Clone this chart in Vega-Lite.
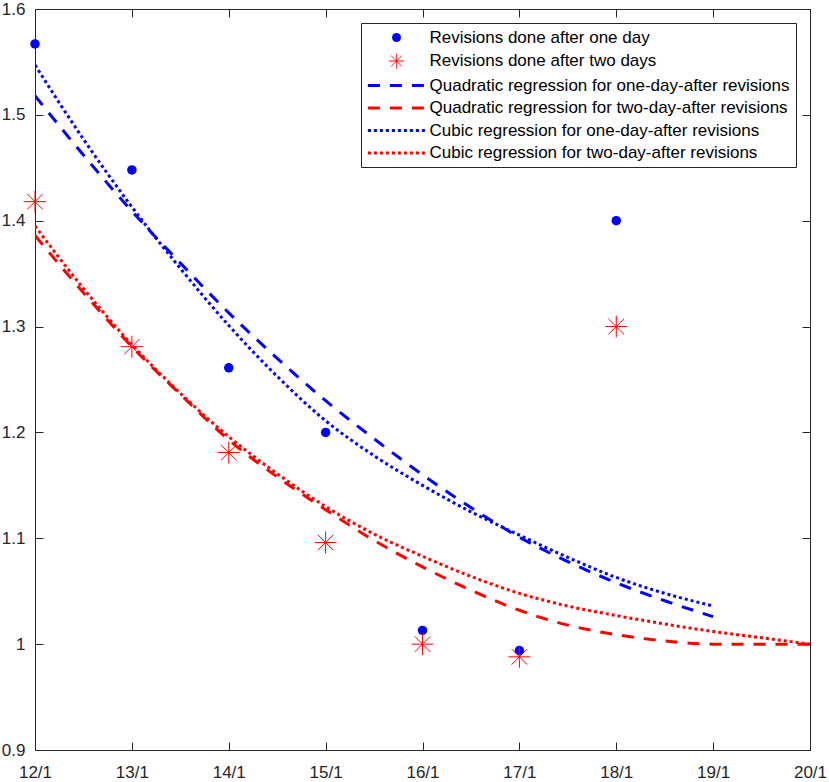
{
  "$schema": "https://vega.github.io/schema/vega-lite/v6.json",
  "width": 775,
  "height": 741,
  "autosize": {"type": "none"},
  "padding": {"left": 35, "top": 9, "right": 19, "bottom": 32},
  "background": "white",
  "config": {
    "font": "Liberation Sans",
    "view": {"stroke": "#262626", "strokeWidth": 1},
    "axis": {
      "labelFont": "Liberation Sans",
      "labelFontSize": 17,
      "labelColor": "#262626",
      "tickColor": "#262626",
      "tickSize": -8,
      "tickWidth": 1,
      "domain": false,
      "grid": false,
      "title": null,
      "labelOverlap": false,
      "labelFlush": false
    },
    "legend": {
      "orient": "top-right",
      "offset": 14,
      "padding": 6,
      "strokeColor": "#262626",
      "fillColor": "white",
      "labelFont": "Liberation Sans",
      "labelFontSize": 17,
      "labelColor": "black",
      "labelLimit": 600,
      "symbolSize": 80,
      "symbolOffset": 21,
      "labelOffset": 24.5,
      "rowPadding": 4.5,
      "symbolStrokeWidth": 3,
      "symbolOpacity": 1
    }
  },
  "datasets": {
    "curves": [
      {"series": "Quadratic regression for one-day-after revisions", "day": 12, "v": 1.518},
      {"series": "Quadratic regression for one-day-after revisions", "day": 12.5, "v": 1.462},
      {"series": "Quadratic regression for one-day-after revisions", "day": 13, "v": 1.409},
      {"series": "Quadratic regression for one-day-after revisions", "day": 13.5, "v": 1.36},
      {"series": "Quadratic regression for one-day-after revisions", "day": 14, "v": 1.313},
      {"series": "Quadratic regression for one-day-after revisions", "day": 14.5, "v": 1.27},
      {"series": "Quadratic regression for one-day-after revisions", "day": 15, "v": 1.23},
      {"series": "Quadratic regression for one-day-after revisions", "day": 15.5, "v": 1.194},
      {"series": "Quadratic regression for one-day-after revisions", "day": 16, "v": 1.16},
      {"series": "Quadratic regression for one-day-after revisions", "day": 16.5, "v": 1.129},
      {"series": "Quadratic regression for one-day-after revisions", "day": 17, "v": 1.101},
      {"series": "Quadratic regression for one-day-after revisions", "day": 17.5, "v": 1.078},
      {"series": "Quadratic regression for one-day-after revisions", "day": 18, "v": 1.058},
      {"series": "Quadratic regression for one-day-after revisions", "day": 18.5, "v": 1.041},
      {"series": "Quadratic regression for one-day-after revisions", "day": 19, "v": 1.026},
      {"series": "Quadratic regression for two-day-after revisions", "day": 12, "v": 1.386},
      {"series": "Quadratic regression for two-day-after revisions", "day": 12.5, "v": 1.332},
      {"series": "Quadratic regression for two-day-after revisions", "day": 13, "v": 1.281},
      {"series": "Quadratic regression for two-day-after revisions", "day": 13.5, "v": 1.236},
      {"series": "Quadratic regression for two-day-after revisions", "day": 14, "v": 1.193},
      {"series": "Quadratic regression for two-day-after revisions", "day": 14.5, "v": 1.158},
      {"series": "Quadratic regression for two-day-after revisions", "day": 15, "v": 1.127},
      {"series": "Quadratic regression for two-day-after revisions", "day": 15.5, "v": 1.098},
      {"series": "Quadratic regression for two-day-after revisions", "day": 16, "v": 1.073},
      {"series": "Quadratic regression for two-day-after revisions", "day": 16.5, "v": 1.051},
      {"series": "Quadratic regression for two-day-after revisions", "day": 17, "v": 1.032},
      {"series": "Quadratic regression for two-day-after revisions", "day": 17.5, "v": 1.018},
      {"series": "Quadratic regression for two-day-after revisions", "day": 18, "v": 1.009},
      {"series": "Quadratic regression for two-day-after revisions", "day": 18.5, "v": 1.003},
      {"series": "Quadratic regression for two-day-after revisions", "day": 19, "v": 1.0},
      {"series": "Quadratic regression for two-day-after revisions", "day": 19.5, "v": 1.0},
      {"series": "Quadratic regression for two-day-after revisions", "day": 20, "v": 1.0},
      {"series": "Cubic regression for one-day-after revisions", "day": 12, "v": 1.547},
      {"series": "Cubic regression for one-day-after revisions", "day": 12.5, "v": 1.477},
      {"series": "Cubic regression for one-day-after revisions", "day": 13, "v": 1.413},
      {"series": "Cubic regression for one-day-after revisions", "day": 13.5, "v": 1.355},
      {"series": "Cubic regression for one-day-after revisions", "day": 14, "v": 1.301},
      {"series": "Cubic regression for one-day-after revisions", "day": 14.5, "v": 1.253},
      {"series": "Cubic regression for one-day-after revisions", "day": 15, "v": 1.211},
      {"series": "Cubic regression for one-day-after revisions", "day": 15.5, "v": 1.178},
      {"series": "Cubic regression for one-day-after revisions", "day": 16, "v": 1.15},
      {"series": "Cubic regression for one-day-after revisions", "day": 16.5, "v": 1.125},
      {"series": "Cubic regression for one-day-after revisions", "day": 17, "v": 1.103},
      {"series": "Cubic regression for one-day-after revisions", "day": 17.5, "v": 1.082},
      {"series": "Cubic regression for one-day-after revisions", "day": 18, "v": 1.063},
      {"series": "Cubic regression for one-day-after revisions", "day": 18.5, "v": 1.048},
      {"series": "Cubic regression for one-day-after revisions", "day": 19, "v": 1.036},
      {"series": "Cubic regression for two-day-after revisions", "day": 12, "v": 1.395},
      {"series": "Cubic regression for two-day-after revisions", "day": 12.5, "v": 1.336},
      {"series": "Cubic regression for two-day-after revisions", "day": 13, "v": 1.283},
      {"series": "Cubic regression for two-day-after revisions", "day": 13.5, "v": 1.237},
      {"series": "Cubic regression for two-day-after revisions", "day": 14, "v": 1.196},
      {"series": "Cubic regression for two-day-after revisions", "day": 14.5, "v": 1.161},
      {"series": "Cubic regression for two-day-after revisions", "day": 15, "v": 1.13},
      {"series": "Cubic regression for two-day-after revisions", "day": 15.5, "v": 1.104},
      {"series": "Cubic regression for two-day-after revisions", "day": 16, "v": 1.083},
      {"series": "Cubic regression for two-day-after revisions", "day": 16.5, "v": 1.064},
      {"series": "Cubic regression for two-day-after revisions", "day": 17, "v": 1.048},
      {"series": "Cubic regression for two-day-after revisions", "day": 17.5, "v": 1.036},
      {"series": "Cubic regression for two-day-after revisions", "day": 18, "v": 1.027},
      {"series": "Cubic regression for two-day-after revisions", "day": 18.5, "v": 1.019},
      {"series": "Cubic regression for two-day-after revisions", "day": 19, "v": 1.012},
      {"series": "Cubic regression for two-day-after revisions", "day": 19.5, "v": 1.006},
      {"series": "Cubic regression for two-day-after revisions", "day": 20, "v": 1.0}
    ],
    "oneday": [
      {"series": "Revisions done after one day", "day": 12, "v": 1.567},
      {"series": "Revisions done after one day", "day": 13, "v": 1.448},
      {"series": "Revisions done after one day", "day": 14, "v": 1.261},
      {"series": "Revisions done after one day", "day": 15, "v": 1.2},
      {"series": "Revisions done after one day", "day": 16, "v": 1.013},
      {"series": "Revisions done after one day", "day": 17, "v": 0.994},
      {"series": "Revisions done after one day", "day": 18, "v": 1.4}
    ],
    "twoday": [
      {"series": "Revisions done after two days", "day": 12, "v": 1.418},
      {"series": "Revisions done after two days", "day": 13, "v": 1.281},
      {"series": "Revisions done after two days", "day": 14, "v": 1.181},
      {"series": "Revisions done after two days", "day": 15, "v": 1.096},
      {"series": "Revisions done after two days", "day": 16, "v": 1.0},
      {"series": "Revisions done after two days", "day": 17, "v": 0.988},
      {"series": "Revisions done after two days", "day": 18, "v": 1.3}
    ]
  },
  "resolve": {"axis": {"x": "independent", "y": "independent"}},
  "layer": [
    {
      "mark": {"type": "rule", "color": "black", "strokeWidth": 2},
      "encoding": {
        "y": {"datum": 1, "type": "quantitative", "axis": null, "scale": {"domain": [0.9, 1.6], "nice": false, "zero": false}}
      }
    },
    {
      "data": {"name": "curves"},
      "mark": {"type": "line", "strokeWidth": 3, "interpolate": "monotone", "clip": true},
      "encoding": {
        "x": {
          "field": "day", "type": "quantitative",
          "scale": {"domain": [12, 20], "nice": false, "zero": false},
          "axis": {"orient": "bottom", "values": [12, 13, 14, 15, 16, 17, 18, 19, 20], "labelExpr": "datum.value + '/1'", "labelPadding": 22}
        },
        "y": {
          "field": "v", "type": "quantitative",
          "scale": {"domain": [0.9, 1.6], "nice": false, "zero": false},
          "axis": {"orient": "left", "values": [0.9, 1, 1.1, 1.2, 1.3, 1.4, 1.5, 1.6], "format": ".1~f", "labelPadding": 18}
        },
        "color": {
          "field": "series", "type": "nominal",
          "scale": {
            "domain": ["Revisions done after one day", "Revisions done after two days", "Quadratic regression for one-day-after revisions", "Quadratic regression for two-day-after revisions", "Cubic regression for one-day-after revisions", "Cubic regression for two-day-after revisions"],
            "range": ["#0000ff", "#ff0000", "#0000ff", "#ff0000", "#0000ff", "#ff0000"]
          },
          "legend": {
            "title": null,
            "encode": {
              "symbols": {
                "update": {
                  "fill": {"signal": "datum.value === 'Revisions done after one day' ? '#0000ff' : 'transparent'"},
                  "strokeWidth": {"signal": "datum.value === 'Revisions done after one day' ? 0 : datum.value === 'Revisions done after two days' ? 1 : 3"}
                }
              }
            }
          }
        },
        "strokeDash": {
          "field": "series", "type": "nominal",
          "scale": {
            "domain": ["Revisions done after one day", "Revisions done after two days", "Quadratic regression for one-day-after revisions", "Quadratic regression for two-day-after revisions", "Cubic regression for one-day-after revisions", "Cubic regression for two-day-after revisions"],
            "range": [[1, 0], [1, 0], [12, 10], [12, 10], [3, 3], [3, 3]]
          },
          "legend": {"title": null}
        }
      }
    },
    {
      "data": {"name": "oneday"},
      "mark": {"type": "point", "filled": true, "size": 90, "opacity": 1},
      "encoding": {
        "x": {"field": "day", "type": "quantitative", "axis": null},
        "y": {"field": "v", "type": "quantitative", "axis": null},
        "color": {"field": "series", "type": "nominal", "legend": {"title": null}},
        "shape": {
          "field": "series", "type": "nominal",
          "scale": {
            "domain": ["Revisions done after one day", "Revisions done after two days", "Quadratic regression for one-day-after revisions", "Quadratic regression for two-day-after revisions", "Cubic regression for one-day-after revisions", "Cubic regression for two-day-after revisions"],
            "range": ["circle", "M-1.7,0H1.7M0,-1.7V1.7M-1.2,-1.2L1.2,1.2M-1.2,1.2L1.2,-1.2", "M-6.4,0H6.4", "M-6.4,0H6.4", "M-6.4,0H6.4", "M-6.4,0H6.4"]
          },
          "legend": {"title": null}
        }
      }
    },
    {
      "data": {"name": "twoday"},
      "mark": {"type": "point", "filled": false, "size": 167, "strokeWidth": 1, "opacity": 1},
      "encoding": {
        "x": {"field": "day", "type": "quantitative", "axis": {"orient": "top", "labels": false, "values": [12, 13, 14, 15, 16, 17, 18, 19, 20]}},
        "y": {"field": "v", "type": "quantitative", "axis": {"orient": "right", "labels": false, "values": [0.9, 1, 1.1, 1.2, 1.3, 1.4, 1.5, 1.6]}},
        "color": {"field": "series", "type": "nominal", "legend": {"title": null}},
        "shape": {"field": "series", "type": "nominal", "legend": {"title": null}}
      }
    }
  ]
}
